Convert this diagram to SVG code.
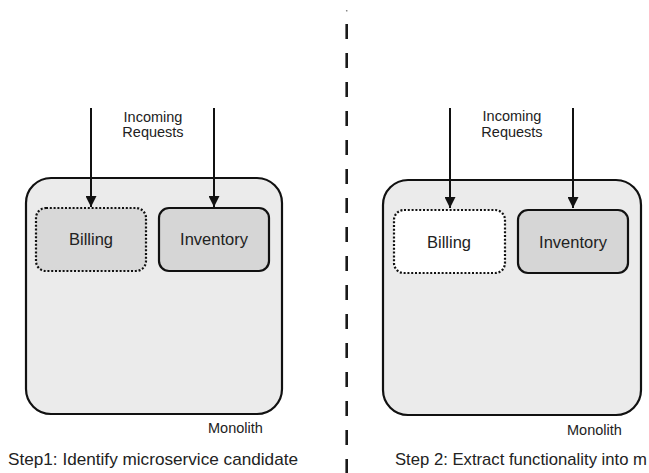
<svg xmlns="http://www.w3.org/2000/svg" width="649" height="473" viewBox="0 0 649 473">
<defs>
<marker id="ah" viewBox="0 0 10 10" refX="10" refY="5" markerWidth="11" markerHeight="11" markerUnits="userSpaceOnUse" orient="auto">
<path d="M0,0 L10,5 L0,10 Z" fill="#111"/>
</marker>
<style>
text{font-family:"Liberation Sans",Arial,sans-serif;fill:#222}
.mono{fill:#ebebeb;stroke:#111;stroke-width:2.2}
.svc{stroke:#111;stroke-width:2.2}
.dotted{stroke-dasharray:2 1.8}
.lbl{font-size:16.5px;text-anchor:middle}
.req{font-size:14.5px;text-anchor:middle}
.ml{font-size:14.5px}
.step{font-size:17px}
.arr{stroke:#111;stroke-width:2;fill:none;marker-end:url(#ah)}
</style>
</defs>
<rect width="649" height="473" fill="#fff"/>
<line x1="346.7" y1="10" x2="346.7" y2="11.5" stroke="#888" stroke-width="1.5"/>
<line x1="346.7" y1="24" x2="346.7" y2="473" stroke="#1a1a1a" stroke-width="2.6" stroke-dasharray="15 14"/>
<g id="left-monolith">
<rect class="mono" x="26" y="178" width="256" height="236" rx="25"/>
<text class="ml" x="208" y="433">Monolith</text>
</g>
<g id="left-billing">
<rect class="svc dotted" x="36" y="208" width="110" height="63" rx="10" fill="#d8d8d8"/>
<text class="lbl" x="91" y="245">Billing</text>
</g>
<g id="left-inventory">
<rect class="svc" x="159" y="208" width="110" height="63" rx="10" fill="#d6d6d6"/>
<text class="lbl" x="214" y="245">Inventory</text>
</g>
<g id="left-requests">
<text class="req" x="153" y="121.5">Incoming</text>
<text class="req" x="153" y="137">Requests</text>
</g>
<g id="right-monolith">
<rect class="mono" x="383" y="180" width="258" height="235" rx="25"/>
<text class="ml" x="567" y="435">Monolith</text>
</g>
<g id="right-billing">
<rect class="svc dotted" x="394" y="210" width="111" height="63" rx="10" fill="#fff"/>
<text class="lbl" x="449" y="248">Billing</text>
</g>
<g id="right-inventory">
<rect class="svc" x="518" y="210" width="110" height="63" rx="10" fill="#d6d6d6"/>
<text class="lbl" x="573" y="248">Inventory</text>
</g>
<g id="right-requests">
<text class="req" x="512" y="120.5">Incoming</text>
<text class="req" x="512" y="137">Requests</text>
</g>
<g id="connectors">
<line class="arr" x1="91" y1="108" x2="91" y2="207"/>
<line class="arr" x1="214" y1="108" x2="214" y2="207"/>
<line class="arr" x1="450" y1="108" x2="450" y2="208"/>
<line class="arr" x1="573" y1="108" x2="573" y2="208"/>
</g>
<g id="captions">
<text class="step" x="8" y="465" textLength="290" lengthAdjust="spacingAndGlyphs">Step1: Identify microservice candidate</text>
<text class="step" x="395" y="465" textLength="252" lengthAdjust="spacingAndGlyphs">Step 2: Extract functionality into m</text>
</g>
</svg>
